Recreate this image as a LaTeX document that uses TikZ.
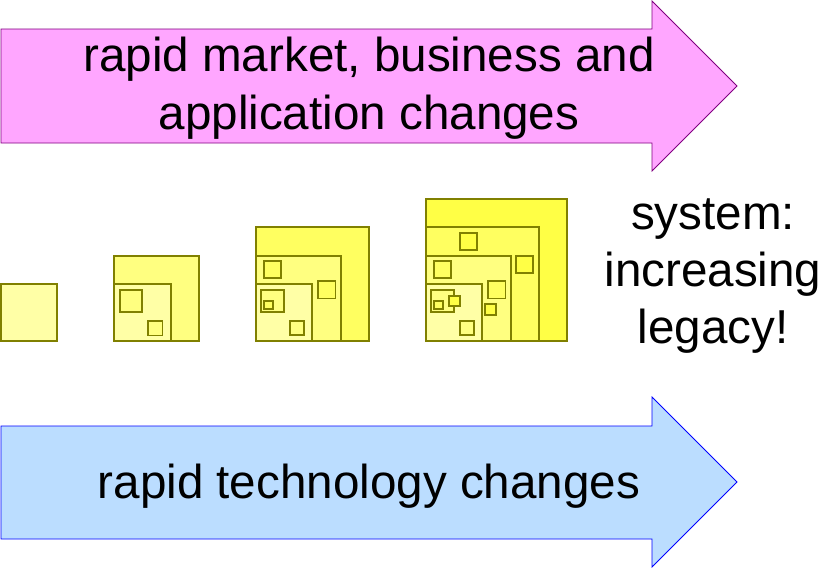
\documentclass[tikz,border=0pt]{standalone}
\usepackage{fontspec}
\setmainfont{Liberation Sans}
\usepackage{tikz}

\definecolor{marketfill}{HTML}{FFA6FF}
\definecolor{marketline}{HTML}{800080}
\definecolor{techfill}{HTML}{BBDDFF}
\definecolor{techline}{HTML}{0000FF}
\definecolor{legacyline}{HTML}{808000}
\definecolor{lvlA}{HTML}{FFFFA6}
\definecolor{lvlB}{HTML}{FFFF80}
\definecolor{lvlC}{HTML}{FFFF60}
\definecolor{lvlD}{HTML}{FFFF45}

\begin{document}
\begin{tikzpicture}[x=1pt,y=-1pt,
    legacybox/.style={draw=legacyline, line width=1.2pt},
    bigtext/.style={font=\fontsize{47.6}{57}\selectfont, align=center, inner sep=0pt}]
\useasboundingbox (0,0) rectangle (824,568);
% market arrow
\draw[fill=marketfill, draw=marketline, line width=0.8pt] (1,29) -- (652,29) -- (652,1) -- (737,86) -- (652,171) -- (652,143) -- (1,143) -- cycle;
\node[bigtext, font=\fontsize{47.6}{58.5}\selectfont] (market) at (369,88) {rapid market, business and\\application changes};
% technology arrow
\draw[fill=techfill, draw=techline, line width=0.8pt] (1,426) -- (652,426) -- (652,397) -- (737,482) -- (652,567) -- (652,539) -- (1,539) -- cycle;
\node[bigtext] (tech) at (369,486) {rapid technology changes};
% system text
\node[bigtext] (legacy) at (713,276) {system:\\increasing\\legacy!};
% system 1
\draw[legacybox, fill=lvlA] (1,284) rectangle (57,341); % S1.a
% system 2
\draw[legacybox, fill=lvlB] (114,256) rectangle (199,341); % S2.b
\draw[legacybox, fill=lvlA] (114,284) rectangle (171,341); % S2.a
\draw[legacybox, fill=lvlB] (120,290) rectangle (142,312); % S2.m1
\draw[legacybox, fill=lvlB] (148,321) rectangle (162.5,335.5); % S2.m2
% system 3
\draw[legacybox, fill=lvlC] (256,227) rectangle (369,341); % S3.c
\draw[legacybox, fill=lvlB] (256,256) rectangle (341,341); % S3.b
\draw[legacybox, fill=lvlA] (256,284) rectangle (312,341); % S3.a
\draw[legacybox, fill=lvlC] (264,261) rectangle (281,278); % S3.m1
\draw[legacybox, fill=lvlC] (318,281) rectangle (335.5,298.5); % S3.m2
\draw[legacybox, fill=lvlB] (261,290) rectangle (284,312); % S3.m3
\draw[legacybox, fill=lvlC] (264,301) rectangle (273,309); % S3.m4
\draw[legacybox, fill=lvlB] (290,321) rectangle (304,335); % S3.m5
% system 4
\draw[legacybox, fill=lvlD] (426,199) rectangle (567,341); % S4.d
\draw[legacybox, fill=lvlC] (426,227) rectangle (539,341); % S4.c
\draw[legacybox, fill=lvlB] (426,256) rectangle (511,341); % S4.b
\draw[legacybox, fill=lvlA] (426,284) rectangle (482,341); % S4.a
\draw[legacybox, fill=lvlD] (460,233) rectangle (477,250); % S4.m1
\draw[legacybox, fill=lvlD] (516,256) rectangle (533,273); % S4.m2
\draw[legacybox, fill=lvlC] (434,261) rectangle (451,278); % S4.m3
\draw[legacybox, fill=lvlC] (488,281) rectangle (505.5,298.5); % S4.m4
\draw[legacybox, fill=lvlB] (431,290) rectangle (454,312); % S4.m5
\draw[legacybox, fill=lvlC] (434,301) rectangle (443,309); % S4.m6
\draw[legacybox, fill=lvlD] (449,296) rectangle (460,306); % S4.m7
\draw[legacybox, fill=lvlD] (485,304) rectangle (496,315); % S4.m8
\draw[legacybox, fill=lvlB] (460,321) rectangle (474,335); % S4.m9
\end{tikzpicture}
\end{document}
